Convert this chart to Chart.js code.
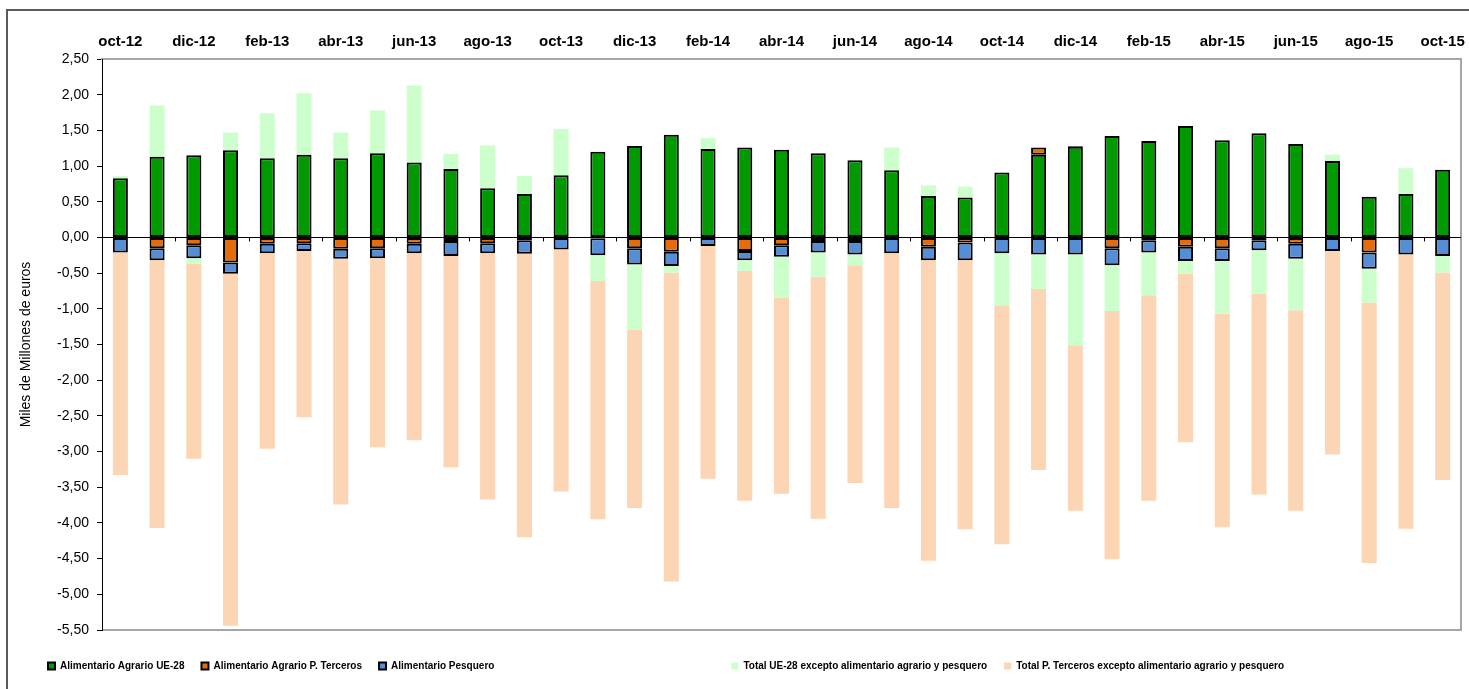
<!DOCTYPE html>
<html>
<head>
<meta charset="utf-8">
<title>Saldo comercial</title>
<script src="https://cdn.jsdelivr.net/npm/chart.js@4.4.1/dist/chart.umd.min.js"></script>
<style>
  html, body { margin: 0; padding: 0; background: #fff; overflow: hidden; }
  #wrap { position: relative; width: 1469px; height: 689px; }
</style>
</head>
<body>
<div id="wrap"><canvas id="saldoChart"></canvas></div>
<script>
// meses oct-12 .. oct-15
var months = ['oct-12','nov-12','dic-12','ene-13','feb-13','mar-13','abr-13','may-13','jun-13','jul-13','ago-13','sep-13',
  'oct-13','nov-13','dic-13','ene-14','feb-14','mar-14','abr-14','may-14','jun-14','jul-14','ago-14','sep-14',
  'oct-14','nov-14','dic-14','ene-15','feb-15','mar-15','abr-15','may-15','jun-15','jul-15','ago-15','sep-15','oct-15'];

var agrarioUE = [0.83,1.13,1.15,1.22,1.11,1.16,1.11,1.18,1.05,0.96,0.69,0.61,
  0.87,1.20,1.28,1.44,1.24,1.26,1.23,1.18,1.08,0.94,0.58,0.56,
  0.91,1.16,1.27,1.42,1.35,1.56,1.36,1.46,1.31,1.07,0.57,0.61,0.95];

var agrarioTerceros = [0,-0.15,-0.11,-0.35,-0.09,-0.08,-0.16,-0.15,-0.09,-0.05,-0.08,-0.04,
  0,-0.01,-0.15,-0.20,0,-0.19,-0.11,-0.05,-0.05,0,-0.13,-0.07,
  0,0.10,0.01,-0.15,-0.04,-0.13,-0.15,-0.04,-0.09,0,-0.21,0,0];

var pesquero = [-0.21,-0.17,-0.18,-0.16,-0.13,-0.11,-0.14,-0.14,-0.13,-0.21,-0.14,-0.19,
  -0.17,-0.24,-0.23,-0.20,-0.12,-0.13,-0.16,-0.16,-0.19,-0.22,-0.19,-0.25,
  -0.22,-0.24,-0.24,-0.24,-0.17,-0.20,-0.18,-0.14,-0.21,-0.19,-0.23,-0.24,-0.26];

var restoUE = [0.03,0.72,-0.08,0.25,0.63,0.86,0.36,0.60,1.08,0.21,0.60,0.25,
  0.65,-0.36,-0.91,-0.09,0.15,-0.15,-0.58,-0.34,-0.15,0.32,0.15,0.15,
  -0.73,-0.48,-1.27,-0.64,-0.60,-0.18,-0.74,-0.61,-0.72,0.09,-0.47,0.36,-0.23];

var restoTerceros = [-3.12,-3.75,-2.73,-4.93,-2.74,-2.33,-3.44,-2.65,-2.62,-2.96,-3.45,-3.97,
  -3.39,-3.34,-2.50,-4.33,-3.26,-3.22,-2.74,-3.39,-3.05,-3.57,-4.21,-3.77,
  -3.35,-2.54,-2.32,-3.48,-2.88,-2.36,-2.99,-2.81,-2.81,-2.85,-3.65,-3.84,-2.91];

var yMin = -5.5, yMax = 2.5, yStep = 0.5;

var sans = "'Liberation Sans', Arial, sans-serif";

// marco exterior, bordes del área de trazado y marcas sobre el eje cero
var framePlugin = {
  id: 'frame',
  afterLayout: function (chart) {
    // colocar la leyenda como en el original
    chart.legend.top += 14;
    chart.legend.bottom += 14;
    chart.legend.left += 13;
    chart.legend.right += 13;
  },
  beforeDraw: function (chart) {
    var ctx = chart.ctx, a = chart.chartArea;
    ctx.save();
    ctx.strokeStyle = '#5a5a5a';
    ctx.lineWidth = 2;
    ctx.beginPath();
    ctx.moveTo(7, chart.height);
    ctx.lineTo(7, 10);
    ctx.lineTo(chart.width, 10);
    ctx.stroke();
    ctx.strokeStyle = '#a6a6a6';
    ctx.beginPath();
    ctx.moveTo(a.left, a.bottom);
    ctx.lineTo(a.right, a.bottom);
    ctx.lineTo(a.right, a.top);
    ctx.stroke();
    ctx.restore();
  },
  afterDatasetsDraw: function (chart) {
    var x = chart.scales.x, y0 = chart.scales.y.getPixelForValue(0), ctx = chart.ctx;
    ctx.save();
    ctx.strokeStyle = '#000';
    ctx.lineWidth = 1;
    ctx.beginPath();
    for (var i = 2; i < months.length; i += 2) {
      var px = Math.round((x.getPixelForValue(i - 1) + x.getPixelForValue(i)) / 2) + 0.5;
      ctx.moveTo(px, y0);
      ctx.lineTo(px, y0 + 4);
    }
    ctx.stroke();
    ctx.restore();
  }
};

function serie(label, data, color, edged) {
  return {
    label: label,
    data: data,
    backgroundColor: color,
    borderColor: edged ? '#000' : color,
    borderWidth: edged ? 2 : 0,
    borderSkipped: false,
    barPercentage: 0.41,
    categoryPercentage: 1.0
  };
}

var ctx = document.getElementById('saldoChart').getContext('2d');
var saldoChart = new Chart(ctx, {
  type: 'bar',
  data: {
    labels: months,
    datasets: [
      serie('Alimentario Agrario UE-28', agrarioUE, '#009900', true),
      serie('Alimentario Agrario P. Terceros', agrarioTerceros, '#E46C0A', true),
      serie('Alimentario Pesquero', pesquero, '#558ED5', true),
      serie('Total UE-28 excepto alimentario agrario y pesquero', restoUE, '#CCFFCC', false),
      serie('Total P. Terceros excepto alimentario agrario y pesquero', restoTerceros, '#FCD5B5', false)
    ]
  },
  options: {
    responsive: true,
    maintainAspectRatio: false,
    animation: false,
    layout: { padding: { left: 18, right: 8, top: 0, bottom: 22 } },
    scales: {
      x: {
        stacked: true,
        position: 'top',
        grid: { display: false, drawTicks: false },
        border: { display: true, color: '#a6a6a6', width: 2 },
        ticks: {
          autoSkip: false,
          maxRotation: 0,
          color: '#000',
          padding: 8,
          font: { family: sans, size: 15, weight: 'bold' },
          callback: function (v, i) { return i % 2 === 0 ? months[i] : ''; }
        },
        afterFit: function (scale) {
          scale.height = 59;
          scale.paddingLeft = 0;
          scale.paddingRight = 0;
        }
      },
      y: {
        stacked: true,
        min: yMin,
        max: yMax,
        ticks: {
          stepSize: yStep,
          color: '#000',
          padding: 8,
          font: { family: sans, size: 14 },
          callback: function (v) { return v.toFixed(2).replace('.', ','); }
        },
        grid: {
          color: function (c) { return c.tick && c.tick.value === 0 ? '#000' : 'rgba(0,0,0,0)'; },
          tickColor: '#000',
          tickLength: 5,
          lineWidth: 1
        },
        border: { color: '#000', width: 1 },
        title: {
          display: true,
          text: 'Miles de Millones de euros',
          color: '#000',
          font: { family: sans, size: 14 },
          padding: { top: 0, bottom: 0 }
        },
        afterFit: function (scale) { scale.width = 84; }
      }
    },
    plugins: {
      legend: {
        position: 'bottom',
        align: 'start',
        labels: {
          boxWidth: 7,
          boxHeight: 7,
          padding: 17,
          color: '#000',
          font: { family: sans, size: 10, weight: 'bold' },
          generateLabels: function (chart) {
            var items = Chart.defaults.plugins.legend.labels.generateLabels(chart);
            items[2].text += '\u2003'.repeat(22);
            return items;
          }
        }
      },
      tooltip: { enabled: false }
    }
  },
  plugins: [framePlugin]
});
</script>
</body>
</html>
